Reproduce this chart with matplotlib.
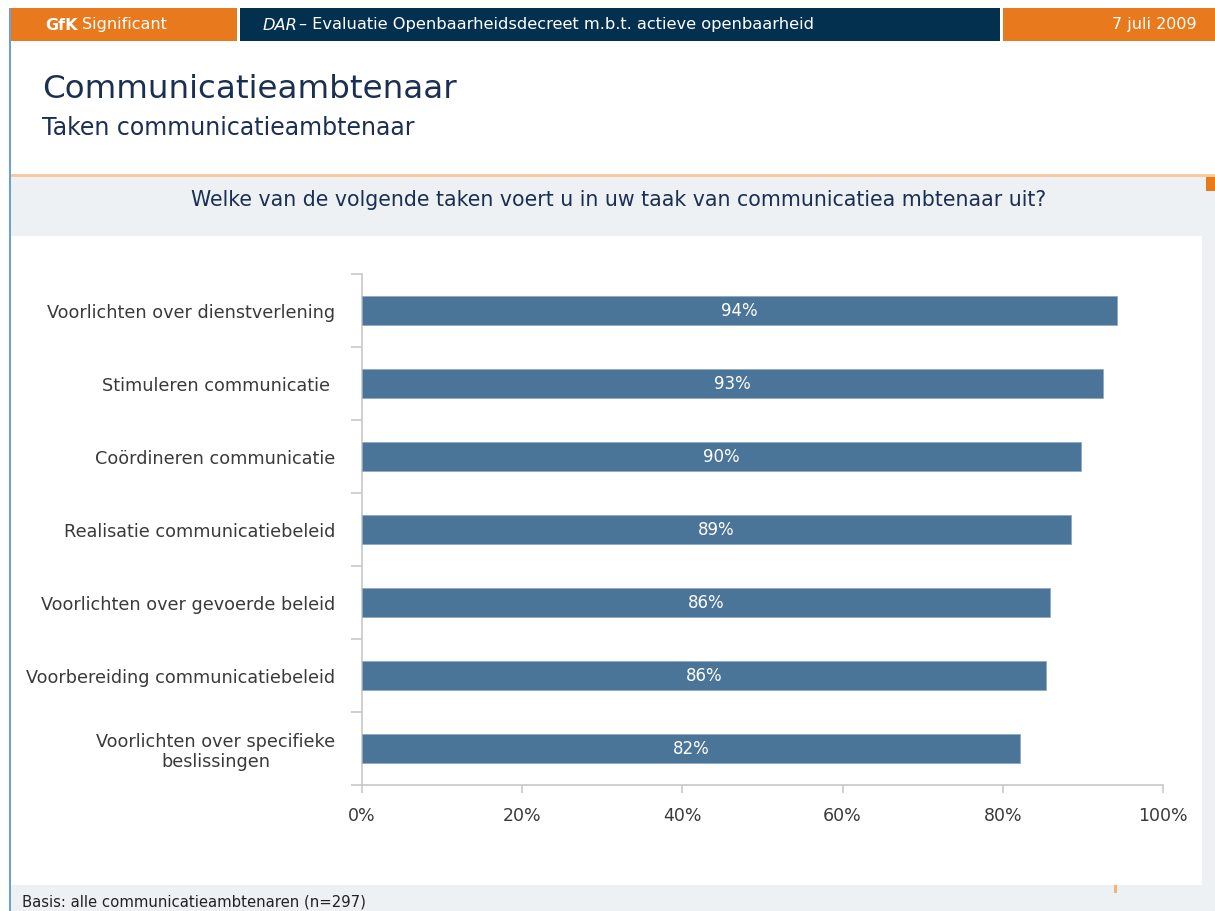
#!/usr/bin/env python3

import matplotlib
matplotlib.use("Agg")
from matplotlib.pyplot import figure, savefig, close
from matplotlib.patches import Rectangle
from matplotlib.ticker import FuncFormatter, FixedLocator

W, H = 1215, 911

CATEGORIES = [
    "Voorlichten over dienstverlening",
    "Stimuleren communicatie ",
    "Coördineren communicatie",
    "Realisatie communicatiebeleid",
    "Voorlichten over gevoerde beleid",
    "Voorbereiding communicatiebeleid",
    "Voorlichten over specifieke\nbeslissingen",
]
VALUES = [94.3, 92.5, 89.8, 88.5, 85.9, 85.4, 82.1]
LABELS = ["94%", "93%", "90%", "89%", "86%", "86%", "82%"]
XTICKS = [0, 20, 40, 60, 80, 100]

ORANGE = "#e8791d"
NAVY = "#04304f"
BAR = "#4b7499"
GREY_BG = "#eef1f3"
TITLE = "#1b2f52"
TEXT = "#3a3a3a"


def px(x, y):
    # pixel coords (top-left origin) -> figure fraction
    return x / W, 1 - y / H


def rect(fig, x0, y0, x1, y1, color, z=0):
    fx, fy = px(x0, y1)
    fig.patches.append(Rectangle(
        (fx, fy), (x1 - x0) / W, (y1 - y0) / H,
        transform=fig.transFigure, facecolor=color, edgecolor="none", zorder=z,
    ))


def main():
    fig = figure(figsize=(W / 100, H / 100), dpi=100)
    fig.patch.set_facecolor("white")

    # header bar
    rect(fig, 10, 8, 237, 41, ORANGE)
    rect(fig, 240, 8, 1000, 41, NAVY)
    rect(fig, 1003, 8, 1215, 41, ORANGE)
    # left blue rule
    rect(fig, 9, 8, 11, 911, "#6aa0d2")
    # grey bands
    rect(fig, 11, 177, 1215, 911, GREY_BG)
    rect(fig, 11, 236, 1202, 885, "white")
    rect(fig, 11, 174, 1215, 177, "#f9c9a0")
    rect(fig, 1206, 177, 1215, 191, ORANGE)
    rect(fig, 1114, 885, 1117, 893, "#f4b27a")

    x, y = px(45, 25)
    fig.text(x, y, "GfK", color="white", fontsize=11.5, weight="bold",
             va="center", ha="left")
    fig.text(x + 37 / W, y, "Significant", color="white", fontsize=11.5,
             va="center", ha="left")
    x, y = px(263, 25)
    fig.text(x, y, "DAR", color="white", fontsize=11.7, style="italic",
             va="center", ha="left")
    fig.text(x + 36 / W, y, "– Evaluatie Openbaarheidsdecreet m.b.t. actieve openbaarheid",
             color="white", fontsize=11.7, va="center", ha="left")
    x, y = px(1197, 25)
    fig.text(x, y, "7 juli 2009", color="white", fontsize=11.5,
             va="center", ha="right")

    x, y = px(42, 90)
    fig.text(x, y, "Communicatieambtenaar", color=TITLE, fontsize=23.4,
             va="center", ha="left")
    x, y = px(42, 128)
    fig.text(x, y, "Taken communicatieambtenaar", color=TITLE, fontsize=17,
             va="center", ha="left")
    x, y = px(619, 200)
    fig.text(x, y, "Welke van de volgende taken voert u in uw taak van communicatiea mbtenaar uit?",
             color=TITLE, fontsize=14.8, va="center", ha="center")
    x, y = px(22, 902)
    fig.text(x, y, "Basis: alle communicatieambtenaren (n=297)", color="#222222",
             fontsize=10.7, va="center", ha="left")

    # chart
    l, t = px(362, 274)
    r, b = px(1163, 785)
    ax = fig.add_axes([l, b, r - l, t - b])
    ax.set_zorder(5)
    ax.set_facecolor("none")
    pos = list(range(len(CATEGORIES)))
    bars = ax.barh(pos, VALUES, height=0.385, color=BAR, edgecolor="#8fa9c2",
                   linewidth=0.6, zorder=3)
    for (bar, lab) in zip(bars, LABELS):
        ax.text(bar.get_width() / 2, bar.get_y() + bar.get_height() / 2, lab,
                color="white", fontsize=12, ha="center", va="center", zorder=4)
    ax.set_xlim(0, 100)
    ax.set_ylim(len(CATEGORIES) - 0.5, -0.5)
    ax.set_xticks(XTICKS)
    ax.xaxis.set_major_formatter(FuncFormatter(lambda v, _: f"{v:.0f}%"))
    ax.set_yticks(pos)
    ax.set_yticklabels(CATEGORIES, ha="right", multialignment="center")
    ax.yaxis.set_minor_locator(FixedLocator([p - 0.5 for p in pos] + [len(pos) - 0.5]))
    for spine in ("top", "right"):
        ax.spines[spine].set_visible(False)
    for spine in ("left", "bottom"):
        ax.spines[spine].set_color("#c8c8c8")
        ax.spines[spine].set_linewidth(1.2)
    ax.tick_params(axis="y", which="major", length=0, pad=19, labelsize=12.7,
                   labelcolor=TEXT)
    ax.tick_params(axis="y", which="minor", length=8, color="#c8c8c8", width=1.2)
    ax.tick_params(axis="x", length=6, color="#c8c8c8", width=1.2, pad=10,
                   labelsize=12.5, labelcolor=TEXT, direction="out")

    savefig("out.png", dpi=100)
    close()


if __name__ == "__main__":
    main()
